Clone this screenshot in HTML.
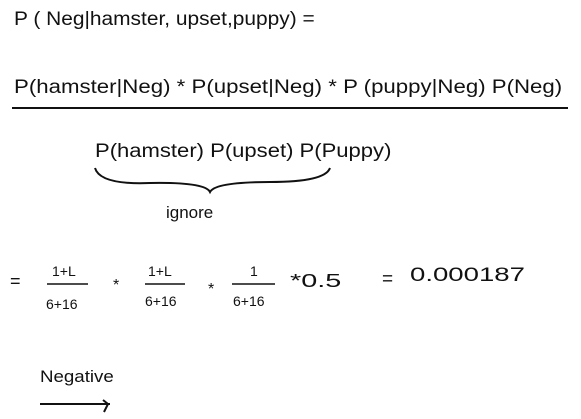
<!DOCTYPE html>
<html><head><meta charset="utf-8"><style>
body{margin:0;background:#fff;}
#c{position:relative;width:581px;height:419px;overflow:hidden;background:#fff;font-family:"Liberation Sans",sans-serif;color:#111;}
.t{position:absolute;white-space:nowrap;line-height:1;transform-origin:0 0;}
</style></head><body>
<div id="c">
<div class="t" style="left:14px;top:10px;font-size:19px;transform:scaleX(1.1);">P ( Neg|hamster, upset,puppy) =</div>
<div class="t" style="left:14px;top:78px;font-size:19px;transform:scaleX(1.17);">P(hamster|Neg) * P(upset|Neg) * P (puppy|Neg) P(Neg)</div>
<div style="position:absolute;left:12px;top:107px;width:556px;height:2px;background:#111;"></div>
<div class="t" style="left:95px;top:142px;font-size:19px;transform:scaleX(1.16);">P(hamster) P(upset) P(Puppy)</div>
<svg style="position:absolute;left:0;top:0" width="581" height="419">
<path d="M95 168 Q100 185 150 183 Q205 182 210 192 Q215 182 270 182 Q325 182 330 168" fill="none" stroke="#111" stroke-width="2"/>
<line x1="47" y1="284" x2="88" y2="284" stroke="#111" stroke-width="1.5"/>
<line x1="145" y1="284" x2="185" y2="284" stroke="#111" stroke-width="1.5"/>
<line x1="232" y1="284" x2="275" y2="284" stroke="#111" stroke-width="1.5"/>
<path d="M40 404 L110 404 M103 400 L108 404 L104 412" fill="none" stroke="#111" stroke-width="2"/>
</svg>
<div class="t" style="left:166px;top:204px;font-size:17px;">ignore</div>
<div class="t" style="left:10px;top:272px;font-size:18px;">=</div>
<div class="t" style="left:52px;top:264px;font-size:14px;">1+L</div>
<div class="t" style="left:46px;top:297px;font-size:14px;">6+16</div>
<div class="t" style="left:113px;top:278px;font-size:16px;">*</div>
<div class="t" style="left:148px;top:264px;font-size:14px;">1+L</div>
<div class="t" style="left:145px;top:294px;font-size:14px;">6+16</div>
<div class="t" style="left:208px;top:282px;font-size:16px;">*</div>
<div class="t" style="left:250px;top:264px;font-size:14px;">1</div>
<div class="t" style="left:233px;top:294px;font-size:14px;">6+16</div>
<div class="t" style="left:290px;top:272px;font-size:18px;transform:scaleX(1.6);">*0.5</div>
<div class="t" style="left:382px;top:270px;font-size:19px;">=</div>
<div class="t" style="left:410px;top:266px;font-size:19px;transform:scaleX(1.45);">0.000187</div>
<div class="t" style="left:40px;top:368px;font-size:17px;transform:scaleX(1.1);">Negative</div>
</div>
</body></html>
